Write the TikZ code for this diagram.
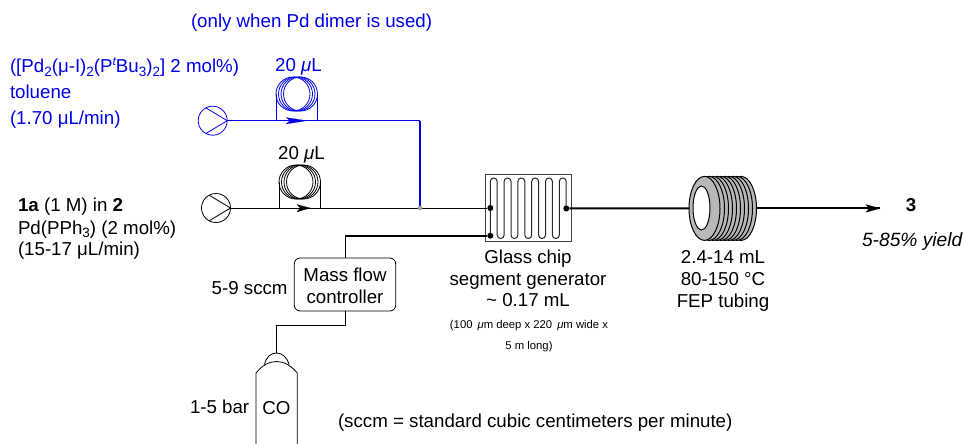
\documentclass[tikz,border=0pt]{standalone}
\usepackage{fontspec}
\setmainfont{Liberation Sans}
\usetikzlibrary{arrows.meta}
\definecolor{pdblue}{RGB}{0,0,235}
\newcommand{\lowidx}[1]{\raisebox{-3.5pt}{\fontsize{13.5}{15}\selectfont #1}}
\newcommand{\highidx}[1]{\raisebox{7pt}{\fontsize{12}{14}\selectfont\itshape #1}}
\tikzset{
    every node/.style={inner sep=0pt, outer sep=0pt, font=\fontsize{18.7}{22}\selectfont},
    lbl/.style={anchor=base west},
    mid/.style={anchor=base},
    tiny/.style={anchor=base, font=\fontsize{11.3}{13}\selectfont},
    thinline/.style={line width=0.8pt},
    thickline/.style={line width=2pt},
    pumpnode/.style={circle, draw, thinline, minimum size=29pt},
    dotnode/.style={circle, fill=black, minimum size=6pt}
}
\begin{document}
\begin{tikzpicture}[x=1pt,y=-1pt]
    \useasboundingbox (0,0) rectangle (964,444);
    % blue feed
    \node[lbl, text=pdblue] (note) at (191,28) {(only when Pd dimer is used)};
    \node[lbl, text=pdblue] (dimer) at (10,72.7) {([Pd\lowidx{2}(μ-I)\lowidx{2}(P\highidx{t}Bu\lowidx{3})\lowidx{2}] 2 mol\%)};
    \node[lbl, text=pdblue] (tol) at (10,98.7) {toluene};
    \node[lbl, text=pdblue] (bluerate) at (10,124) {(1.70 μL/min)};
    \node[mid, text=pdblue] (bluevol) at (298.5,71.7) {20 \textit{μ}L};
    \node[pumpnode, draw=pdblue] (bluepump) at (212.7,120.7) {};
    \draw[thinline, pdblue] (bluepump.east) -- (bluepump.118);
    \draw[thinline, pdblue] (bluepump.east) -- (bluepump.242);
    \foreach \cx in {293,295.5,298,300.5} {
        \draw[thinline, pdblue] (\cx,94) circle (17);
    }
    \coordinate (bluea) at (276,120.7);
    \coordinate (blueb) at (317.5,120.7);
    \draw[thinline, pdblue] (bluea) -- (276,94);
    \draw[thinline, pdblue] (blueb) -- (317.5,94);
    % black feed
    \node[lbl] (subs) at (18,211.7) {\textbf{1a} (1 M) in \textbf{2}};
    \node[lbl] (cat) at (18,234.3) {Pd(PPh\lowidx{3}) (2 mol\%)};
    \node[lbl] (rate) at (18,255.7) {(15-17 μL/min)};
    \node[mid] (vol) at (301.5,159) {20 \textit{μ}L};
    \node[pumpnode] (pump) at (216,208) {};
    \draw[thinline] (pump.east) -- (pump.118);
    \draw[thinline] (pump.east) -- (pump.242);
    \foreach \cx in {296,298.5,301,303.5} {
        \draw[thinline] (\cx,182) circle (17);
    }
    \coordinate (loopa) at (279,208);
    \coordinate (loopb) at (320.5,208);
    \draw[thinline] (loopa) -- (279,182);
    \draw[thinline] (loopb) -- (320.5,182);
    % chip
    \node[draw=black!75, line width=1pt, minimum width=86pt, minimum height=67pt] (chip) at (528,208.2) {};
    \draw[line width=1pt, black!85, rounded corners=3.4pt] (490.3,236) -- (490.3,178)
        foreach \cx in {490.3,504.1,517.9,531.7,545.5} {
            -- (\cx+6.9,178) -- (\cx+6.9,238.5) -- (\cx+13.8,238.5) -- (\cx+13.8,178)
        } -- (566.2,178) -- (566.2,208);
    \node[dotnode] (inlet) at (490.3,208) {};
    \node[dotnode] (gasin) at (490.3,235.7) {};
    \node[dotnode] (outlet) at (566.3,208.5) {};
    \node[mid] (chipa) at (528,263) {Glass chip};
    \node[mid] (chipb) at (528,285) {segment generator};
    \node[mid] (chipc) at (528,306.7) {\textasciitilde{} 0.17 mL};
    \node[tiny] (chipd) at (529,328.3) {(100 \,\textit{μ}m deep x 220 \,\textit{μ}m wide x};
    \node[tiny] (chipe) at (529,349.3) {5 m long)};
    % tubing
    \node[minimum width=68pt, minimum height=64pt] (tube) at (723,208.4) {};
    \foreach \cx in {741,737,733,729,725,721,717,713,709} {
        \draw[line width=1pt, fill=black!28] (\cx,208.4) ellipse (15.5 and 32);
    }
    \draw[line width=1pt, fill=black!28] (704.5,208.4) ellipse (15.5 and 32);
    \draw[line width=1pt, fill=white] (701.5,208) ellipse (8.5 and 22);
    \node[mid] (tubea) at (723,263) {2.4-14 mL};
    \node[mid] (tubeb) at (723,285) {80-150 °C};
    \node[mid] (tubec) at (723,307) {FEP tubing};
    % product
    \node[anchor=base, font=\fontsize{18.7}{22}\selectfont\bfseries] (prod) at (911,211.7) {3};
    \node[lbl, font=\fontsize{19.2}{22}\selectfont\itshape] (yield) at (862,246.7) {5-85\% yield};
    \coordinate (prodtip) at (880,208.4);
    % gas side
    \node[draw, thinline, rounded corners=6pt, minimum width=101.5pt, minimum height=53pt] (mfc) at (345,284.5) {};
    \node[mid] (mfca) at (345,281.7) {Mass flow};
    \node[mid] (mfcb) at (345,303) {controller};
    \node[lbl] (sccm) at (211.7,294) {5-9 sccm};
    \coordinate (bottletop) at (276,353);
    \draw[thinline] (256,444) -- (256,373) .. controls (262,365.5) and (269,361.5) .. (276.5,361.5)
        .. controls (284,361.5) and (291,365.5) .. (297.3,373) -- (297.3,444);
    \draw[thinline] (264.5,364.5) .. controls (266,357) and (271,353) .. (276.5,353)
        .. controls (282,353) and (287,357) .. (289,364.5);
    \node[mid] (co) at (276.5,414) {CO};
    \node[lbl] (bar) at (190,413) {1-5 bar};
    \node[lbl] (def) at (338,427) {(sccm = standard cubic centimeters per minute)};
    % connections
    \coordinate (bluebend) at (420,120.7);
    \coordinate (gasbend) at (mfc.north |- gasin);
    \coordinate (mfcbend) at (345,325);
    \coordinate (bottlebend) at (276,325);
    \draw[thinline, pdblue] (bluepump.east) -- (bluebend);
    \draw[line width=1.6pt, pdblue] (bluebend) -- (420,208);
    \draw[thinline] (pump.east) -- (inlet);
    \draw[thinline] (mfc.south) -- (mfcbend) -- (bottlebend) -- (bottletop);
    \draw[thinline] (gasbend) -- (mfc.north);
    \draw[thickline] (gasin) -- (gasbend);
    \draw[thickline] (outlet) -- (tube.west);
    \draw[thickline] (tube.east) -- (prodtip);
    \fill[black!35] (420,208) circle (2.3);
    % flow arrows
    \draw[line width=0.1pt, pdblue, fill=pdblue] (286,117.5) -- (307,120.7) -- (286,124) -- (290,120.7) -- cycle;
    \draw[line width=0.1pt, fill=black] (297,204.5) -- (310,208) -- (297,212) -- (300,208) -- cycle;
    \draw[line width=0.1pt, fill=black] (866,204.5) -- (880,208.4) -- (866,212.3) -- (869,208.4) -- cycle;
\end{tikzpicture}
\end{document}
